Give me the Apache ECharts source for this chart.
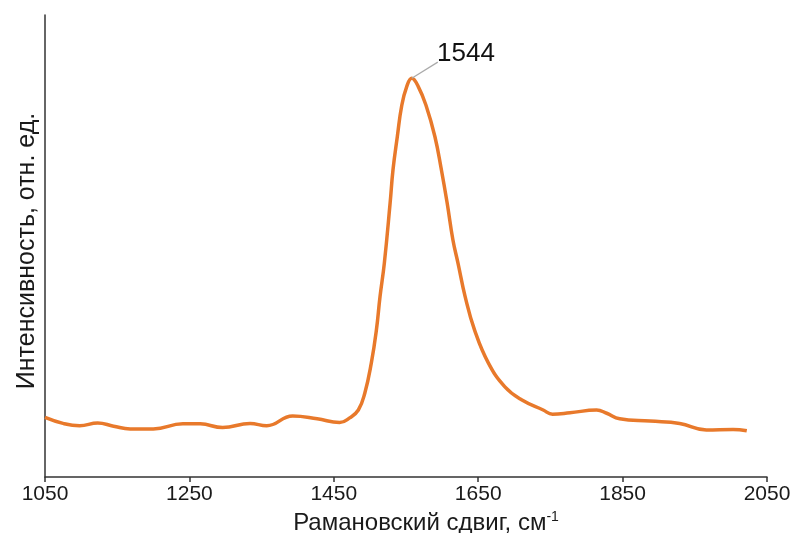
<!DOCTYPE html>
<html>
<head>
<meta charset="utf-8">
<script src="https://cdn.jsdelivr.net/npm/echarts@6/dist/echarts.min.js"></script>
<style>html,body{margin:0;padding:0;background:#fff}#c{width:797px;height:533px}</style>
</head>
<body>
<div id="c"></div>
<script>
// Raman shift (cm^-1)
const shift = [1050, 1075, 1098, 1123, 1145, 1168, 1200, 1241, 1265, 1296, 1334, 1357, 1393, 1427, 1458, 1472, 1484, 1493, 1502, 1509, 1514, 1520, 1528, 1532, 1538, 1544, 1551, 1558, 1567, 1578, 1590, 1599, 1607, 1615, 1622, 1632, 1645, 1664, 1687, 1710, 1740, 1753, 1777, 1814, 1828, 1846, 1888, 1929, 1966, 2003, 2022];
// Intensity (arb. units)
const intensity = [12.9, 11.6, 11.1, 11.7, 11.0, 10.4, 10.4, 11.5, 11.5, 10.7, 11.6, 11.1, 13.2, 12.6, 11.8, 12.8, 14.5, 18.2, 24.7, 31.8, 39.0, 46.3, 59.3, 66.5, 73.7, 80.3, 84.5, 86.3, 84.5, 80.3, 73.7, 66.5, 59.3, 51.3, 46.3, 39.0, 31.8, 24.7, 19.5, 16.7, 14.5, 13.6, 13.9, 14.5, 13.8, 12.6, 12.1, 11.6, 10.2, 10.3, 10.0];
const xTicks = [1050, 1250, 1450, 1650, 1850, 2050];
const peakLabel = '1544';
const peakPoint = [1558, 86.3];
const leaderEnd = [1594, 89.8];
const labelPoint = [1633, 91.7];

const chart = echarts.init(document.getElementById('c'), null, {renderer: 'canvas'});
const font = 'Liberation Sans, Arial, sans-serif';
chart.setOption({
  animation: false,
  grid: {left: 45, right: 30, top: 15, bottom: 56, outerBoundsMode: 'none', containLabel: false},
  xAxis: {
    type: 'value', min: xTicks[0], max: xTicks[xTicks.length - 1], interval: 200,
    axisLine: {lineStyle: {color: '#333', width: 1.5}},
    axisTick: {show: true, length: 5, lineStyle: {color: '#333', width: 1.5}},
    axisLabel: {color: '#1a1a1a', fontSize: 21, fontFamily: font, margin: 7, formatter: v => String(v)},
    splitLine: {show: false},
    name: '{a|Рамановский сдвиг, см}{s|-1}',
    nameLocation: 'middle', nameGap: 31,
    nameTextStyle: {
      padding: [0, 0, 0, 40],
      rich: {
        a: {fontSize: 24, color: '#1a1a1a', fontFamily: font},
        s: {fontSize: 14, color: '#1a1a1a', fontFamily: font, verticalAlign: 'top', padding: [0, 0, 12, 0]}
      }
    }
  },
  yAxis: {
    type: 'value', min: 0, max: 100,
    axisLine: {show: true, lineStyle: {color: '#333', width: 1.5}},
    axisTick: {show: false},
    axisLabel: {show: false},
    splitLine: {show: false},
    name: 'Интенсивность, отн. ед.',
    nameLocation: 'middle', nameGap: 5,
    nameTextStyle: {fontSize: 25, color: '#1a1a1a', fontFamily: font, padding: [0, 10, 0, 0]}
  },
  series: [{
    type: 'line',
    data: shift.map((x, i) => [x, intensity[i]]),
    smooth: 0.45,
    symbol: 'none',
    lineStyle: {color: '#E8792B', width: 3.5},
    markLine: {
      silent: true, symbol: 'none',
      lineStyle: {color: '#aaa', width: 1.2, type: 'solid'},
      label: {show: false},
      data: [[{coord: peakPoint}, {coord: leaderEnd}]]
    },
    markPoint: {
      symbol: 'circle', symbolSize: 0,
      label: {show: true, formatter: peakLabel, color: '#111', fontSize: 26, fontFamily: font, position: 'inside'},
      data: [{coord: labelPoint}]
    }
  }]
});
</script>
</body>
</html>
